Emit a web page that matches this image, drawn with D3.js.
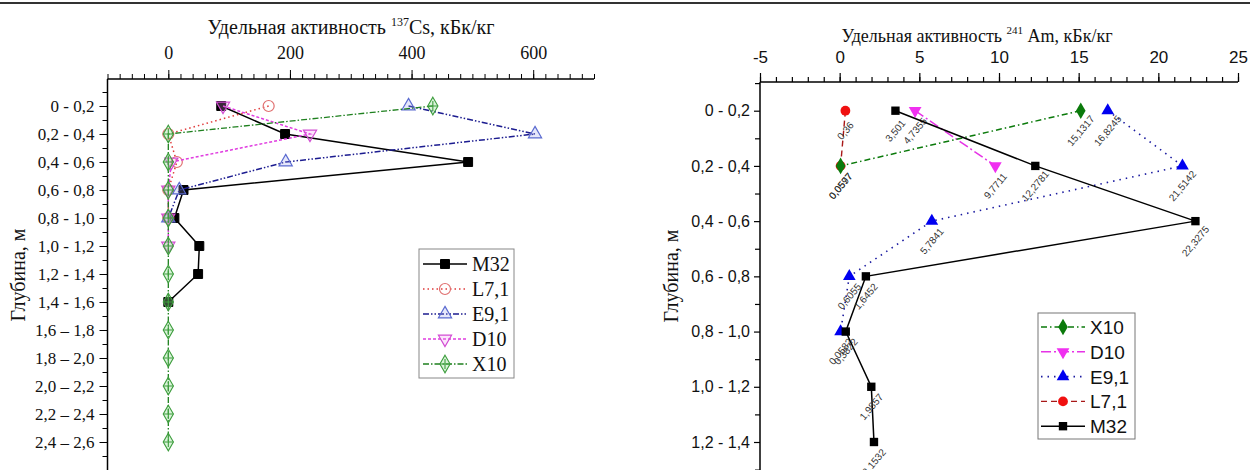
<!DOCTYPE html>
<html>
<head>
<meta charset="utf-8">
<script src="https://cdn.jsdelivr.net/npm/d3@7"></script>
<style>
  html, body { margin: 0; padding: 0; background: #fff; }
  svg { display: block; }
</style>
</head>
<body>
<svg id="chart" width="1250" height="470"></svg>
<script>
// ---------- Cs-137 profile (kBq/kg) by depth interval ----------
const csDepths = ["0 - 0,2", "0,2 - 0,4", "0,4 - 0,6", "0,6 - 0,8", "0,8 - 1,0",
  "1,0 - 1,2", "1,2 - 1,4", "1,4 - 1,6", "1,6 – 1,8", "1,8 – 2,0",
  "2,0 – 2,2", "2,2 – 2,4", "2,4 – 2,6"];
const csTicks = [0, 200, 400, 600];
const csM32 = [87, 192, 493, 25, 10, 51, 49, 0];
const csL71 = [165, 0, 14, 0, 0];
const csE91 = [395, 603, 193, 18, 0];
const csD10 = [90, 233, 5, 0, 0, 0];
const csX10 = [435, 0, 0, 0, 0, 0, 0, 0, 0, 0, 0, 0, 0];

// ---------- Am-241 profile (kBq/kg) by depth interval ----------
const amDepths = ["0 - 0,2", "0,2 - 0,4", "0,4 - 0,6", "0,6 - 0,8", "0,8 - 1,0",
  "1,0 - 1,2", "1,2 - 1,4"];
const amTicks = [-5, 0, 5, 10, 15, 20, 25];
const amX10 = [15.1317, 0.0597];
const amD10 = [4.7355, 9.7711];
const amE91 = [16.8245, 21.5142, 5.7841, 0.6055, 0.0582];
const amL71 = [0.36, 0.0577];
const amM32 = [3.501, 12.2781, 22.3275, 1.6452, 0.3822, 1.9857, 2.1532];

const svg = d3.select("#chart");
const SERIF = "'Liberation Serif', 'Times New Roman', serif";
const SANS = "'Liberation Sans', Arial, sans-serif";
const plainNum = v => String(v);          // keeps an ASCII hyphen for negatives

// rule across the top of the figure
svg.append("line").attr("x1", 0).attr("x2", 1250).attr("y1", 3).attr("y2", 3)
  .attr("stroke", "#333").attr("stroke-width", 2);

// ---------- marker helper ----------
function marker(g, kind, x, y, opt) {
  const sym = {
    square: d3.symbolSquare, circle: d3.symbolCircle,
    up: d3.symbolTriangle, down: d3.symbolTriangle, diamond: d3.symbolDiamond
  }[kind];
  g.append("path")
    .attr("d", d3.symbol().type(sym).size(opt.size)())
    .attr("transform", `translate(${x},${y})` + (kind === "down" ? " rotate(180)" : ""))
    .attr("fill", opt.fill).attr("stroke", opt.stroke || "none")
    .attr("stroke-width", opt.sw || 1);
  if (opt.cross) {
    const r = opt.cross;
    g.append("path").attr("d", `M${x - r},${y}H${x + r}M${x},${y - r}V${y + r}`)
      .attr("stroke", opt.stroke).attr("stroke-width", opt.sw || 1);
  }
}

// ================= LEFT PANEL: Cs-137 =================
const xL = d3.scaleLinear().domain([-100, 700]).range([107.5, 594]);
const yL = d3.scaleLinear().domain([0, csDepths.length - 1]).range([106, 442]);
const axTopL = 79, axLeftL = 107.5;
const gL = svg.append("g");

// top axis: minor then major ticks
gL.append("g").attr("transform", `translate(0,${axTopL})`)
  .call(d3.axisTop(xL).tickValues(d3.range(-100, 701, 20)).tickSize(5).tickSizeOuter(0).tickFormat(""))
  .call(g => g.select(".domain").remove());
gL.append("g").attr("transform", `translate(0,${axTopL})`)
  .call(d3.axisTop(xL).tickValues(csTicks).tickSize(9).tickSizeOuter(0).tickPadding(11).tickFormat(plainNum))
  .call(g => g.select(".domain").remove())
  .call(g => g.selectAll("text").attr("font-family", SERIF).attr("font-size", 18).attr("fill", "#111"));
gL.append("line").attr("x1", axLeftL).attr("x2", xL(700)).attr("y1", axTopL).attr("y2", axTopL)
  .attr("stroke", "#000").attr("stroke-width", 1.5);

// left axis: depth intervals
const minorL = d3.range(-0.5, 13.01, 1).filter(v => yL(v) <= 470);
gL.append("g").attr("transform", `translate(${axLeftL},0)`)
  .call(d3.axisLeft(yL).tickValues(minorL).tickSize(5).tickSizeOuter(0).tickFormat(""))
  .call(g => g.select(".domain").remove());
gL.append("g").attr("transform", `translate(${axLeftL},0)`)
  .call(d3.axisLeft(yL).tickValues(d3.range(csDepths.length)).tickSize(8).tickSizeOuter(0)
    .tickPadding(5).tickFormat(i => csDepths[i]))
  .call(g => g.select(".domain").remove())
  .call(g => g.selectAll("text").attr("font-family", SERIF).attr("font-size", 17).attr("fill", "#111"));
gL.append("line").attr("x1", axLeftL).attr("x2", axLeftL).attr("y1", axTopL).attr("y2", 472)
  .attr("stroke", "#000").attr("stroke-width", 1.5);
gL.selectAll(".tick line").attr("stroke", "#000").attr("stroke-width", 1);

// titles
const tL = gL.append("text").attr("x", 351).attr("y", 34).attr("text-anchor", "middle")
  .attr("font-family", SERIF).attr("font-size", 20).attr("fill", "#111");
tL.append("tspan").text("Удельная активность ");
tL.append("tspan").attr("font-size", 12).attr("dy", -8).text("137");
tL.append("tspan").attr("dy", 8).text("Cs, кБк/кг");
gL.append("text").attr("transform", "translate(25,275) rotate(-90)").attr("text-anchor", "middle")
  .attr("font-family", SERIF).attr("font-size", 20).attr("fill", "#111").text("Глубина, м");

const csSeries = [
  { name: "M32", data: csM32, line: "#000", dash: null, lw: 1.5,
    mk: "square", mo: { size: 80, fill: "#000", stroke: "#000" } },
  { name: "L7,1", data: csL71, line: "#e03a3a", dash: "1.5,3", lw: 1.5,
    mk: "circle", mo: { size: 95, fill: "none", stroke: "#e07070", sw: 1.2 } },
  { name: "E9,1", data: csE91, line: "#1c1c90", dash: "6,2,1.5,2,1.5,2", lw: 1.5,
    mk: "up", mo: { size: 75, fill: "rgba(150,160,235,0.25)", stroke: "#5a6ad0", sw: 1.2 } },
  { name: "D10", data: csD10, line: "#e03ce0", dash: "3,2", lw: 1.5,
    mk: "down", mo: { size: 75, fill: "rgba(240,150,240,0.25)", stroke: "#d24cd2", sw: 1.2 } },
  { name: "X10", data: csX10, line: "#1f801f", dash: "6,2,1.5,2", lw: 1.3,
    mk: "diamond", mo: { size: 90, fill: "rgba(150,220,150,0.35)", stroke: "#3d9d3d", sw: 1.1, cross: 5 } }
];
const lineL = d3.line().x(d => xL(d.v)).y(d => yL(d.i));
csSeries.forEach(s => {
  const pts = s.data.map((v, i) => ({ v, i }));
  gL.append("path").attr("d", lineL(pts)).attr("fill", "none")
    .attr("stroke", s.line).attr("stroke-width", s.lw)
    .attr("stroke-dasharray", s.dash);
  pts.forEach(p => marker(gL, s.mk, xL(p.v), yL(p.i), s.mo));
});

// legend
const lgL = gL.append("g");
lgL.append("rect").attr("x", 419).attr("y", 249).attr("width", 95).attr("height", 129)
  .attr("fill", "#fff").attr("stroke", "#888").attr("stroke-width", 1);
csSeries.forEach((s, k) => {
  const y = 264 + k * 25;
  lgL.append("line").attr("x1", 423).attr("x2", 467).attr("y1", y).attr("y2", y)
    .attr("stroke", s.line).attr("stroke-width", s.lw).attr("stroke-dasharray", s.dash);
  marker(lgL, s.mk, 445, y, s.mo);
  lgL.append("text").attr("x", 472).attr("y", y + 7).attr("font-family", SERIF)
    .attr("font-size", 20).attr("fill", "#111").text(s.name);
});

// ================= RIGHT PANEL: Am-241 =================
const xR = d3.scaleLinear().domain([-5, 25]).range([760, 1238]);
const yR = d3.scaleLinear().domain([0, amDepths.length - 1]).range([110.7, 442]);
const axTopR = 82, axLeftR = 760;
const gR = svg.append("g");

gR.append("g").attr("transform", `translate(0,${axTopR})`)
  .call(d3.axisTop(xR).tickValues(d3.range(-5, 25.01, 1)).tickSize(5).tickSizeOuter(0).tickFormat(""))
  .call(g => g.select(".domain").remove());
gR.append("g").attr("transform", `translate(0,${axTopR})`)
  .call(d3.axisTop(xR).tickValues(amTicks).tickSize(9).tickSizeOuter(0).tickPadding(10).tickFormat(plainNum))
  .call(g => g.select(".domain").remove())
  .call(g => g.selectAll("text").attr("font-family", SANS).attr("font-size", 17).attr("fill", "#111"));
gR.append("line").attr("x1", axLeftR).attr("x2", 1238).attr("y1", axTopR).attr("y2", axTopR)
  .attr("stroke", "#000").attr("stroke-width", 1.5);

const minorR = d3.range(-0.5, 7.01, 1).filter(v => yR(v) <= 470 && yR(v) > axTopR);
gR.append("g").attr("transform", `translate(${axLeftR},0)`)
  .call(d3.axisLeft(yR).tickValues(minorR).tickSize(5).tickSizeOuter(0).tickFormat(""))
  .call(g => g.select(".domain").remove());
gR.append("g").attr("transform", `translate(${axLeftR},0)`)
  .call(d3.axisLeft(yR).tickValues(d3.range(amDepths.length)).tickSize(6).tickSizeOuter(0)
    .tickPadding(4).tickFormat(i => amDepths[i]))
  .call(g => g.select(".domain").remove())
  .call(g => g.selectAll("text").attr("font-family", SANS).attr("font-size", 16).attr("fill", "#111"));
gR.selectAll(".tick line").attr("stroke", "#000").attr("stroke-width", 1.2);
gR.append("line").attr("x1", axLeftR).attr("x2", axLeftR).attr("y1", axTopR).attr("y2", 472)
  .attr("stroke", "#000").attr("stroke-width", 1.5);

const tR = gR.append("text").attr("x", 977).attr("y", 42).attr("text-anchor", "middle")
  .attr("font-family", SERIF).attr("font-size", 18).attr("fill", "#111");
tR.append("tspan").text("Удельная активность ");
tR.append("tspan").attr("font-size", 11).attr("dy", -8).text("241");
tR.append("tspan").attr("dy", 8).text(" Am, кБк/кг");
gR.append("text").attr("transform", "translate(678,276) rotate(-90)").attr("text-anchor", "middle")
  .attr("font-family", SERIF).attr("font-size", 20).attr("fill", "#111").text("Глубина, м");

const amSeries = [
  { name: "X10", data: amX10, line: "#0b7a0b", dash: "6,3,1.5,3", lw: 1.5,
    mk: "diamond", mo: { size: 80, fill: "#0b7a0b" } },
  { name: "D10", data: amD10, line: "#e633e6", dash: "10,3,2,3", lw: 1.5,
    mk: "down", mo: { size: 70, fill: "#f030f0" } },
  { name: "E9,1", data: amE91, line: "#1a1aa0", dash: "1.5,5", lw: 1.6,
    mk: "up", mo: { size: 70, fill: "#0000f0" } },
  { name: "L7,1", data: amL71, line: "#a81818", dash: "6,4", lw: 1.4,
    mk: "circle", mo: { size: 75, fill: "#f01010" } },
  { name: "M32", data: amM32, line: "#000", dash: null, lw: 1.5,
    mk: "square", mo: { size: 70, fill: "#000" } }
];
const lineR = d3.line().x(d => xR(d.v)).y(d => yR(d.i));
const fmt = v => String(v).replace(".", ",");
["L7,1", "E9,1", "D10", "X10", "M32"].forEach(nm => {
  const s = amSeries.find(t => t.name === nm);
  const pts = s.data.map((v, i) => ({ v, i }));
  gR.append("path").attr("d", lineR(pts)).attr("fill", "none")
    .attr("stroke", s.line).attr("stroke-width", s.lw)
    .attr("stroke-dasharray", s.dash);
  pts.forEach(p => {
    marker(gR, s.mk, xR(p.v), yR(p.i), s.mo);
    gR.append("text")
      .attr("transform", `translate(${xR(p.v)},${yR(p.i) + 20}) rotate(-50)`)
      .attr("text-anchor", "middle").attr("dy", "0.35em")
      .attr("font-family", SANS).attr("font-size", 10).attr("fill", "#333")
      .text(fmt(p.v));
  });
});

const lgR = gR.append("g");
lgR.append("rect").attr("x", 1038).attr("y", 313).attr("width", 97).attr("height", 126)
  .attr("fill", "#fff").attr("stroke", "#777").attr("stroke-width", 1);
amSeries.forEach((s, k) => {
  const y = 327 + k * 24.8;
  lgR.append("line").attr("x1", 1041).attr("x2", 1085).attr("y1", y).attr("y2", y)
    .attr("stroke", s.line).attr("stroke-width", s.lw).attr("stroke-dasharray", s.dash);
  marker(lgR, s.mk, 1063, y, s.mo);
  lgR.append("text").attr("x", 1090).attr("y", y + 7).attr("font-family", SANS)
    .attr("font-size", 19).attr("fill", "#111").text(s.name);
});
</script>
</body>
</html>
